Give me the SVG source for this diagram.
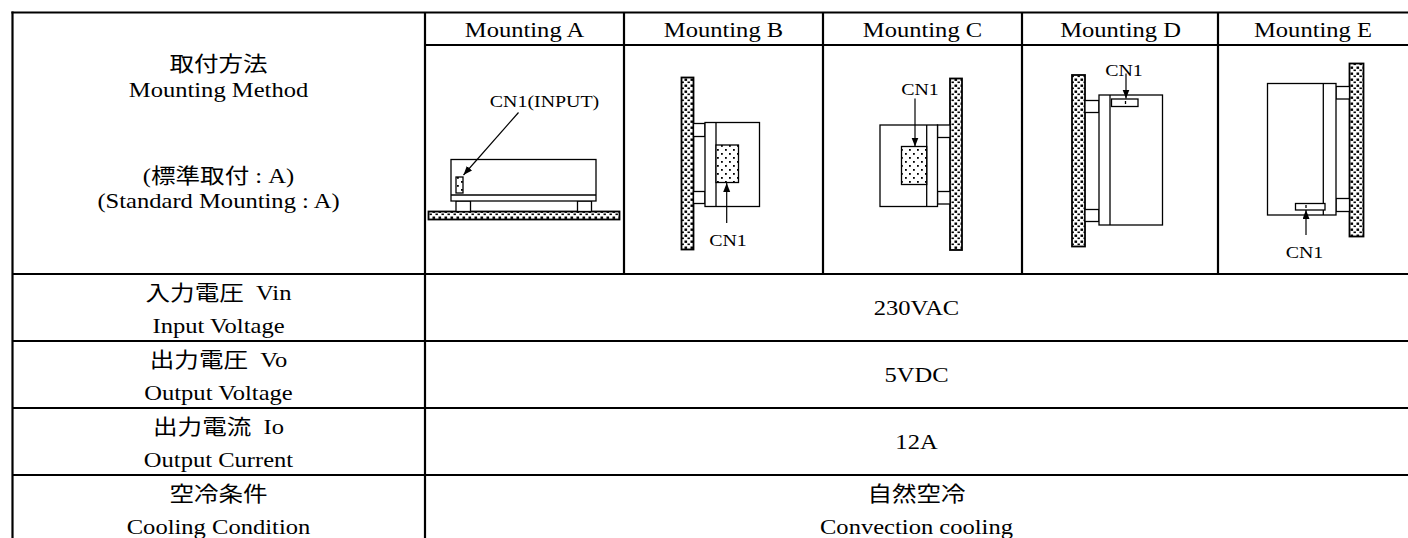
<svg xmlns="http://www.w3.org/2000/svg" width="1408" height="538" viewBox="0 0 1408 538">
<style>
.t { font-family: "Liberation Serif", "Noto Sans CJK JP", serif; font-size: 21px; text-anchor: middle; fill: #000; white-space: pre; }
.s { font-size: 17px; }
.grid line { stroke: #000; stroke-width: 2.2; }
.d { fill: #fff; stroke: #000; stroke-width: 1.3; }
.w { fill: url(#wall); stroke: #000; stroke-width: 1.8; }
.c { fill: url(#dots); stroke: #000; stroke-width: 1.3; }
.ln { stroke: #000; stroke-width: 1.3; fill: none; }
.ar { stroke: #000; stroke-width: 1.2; fill: none; marker-end: url(#ah); }
</style>
<defs>
<pattern id="wall" patternUnits="userSpaceOnUse" width="6" height="6">
<rect width="6" height="6" fill="#fff"/>
<rect x="0.5" y="0.5" width="2.6" height="2.4" fill="#000"/>
<rect x="3.5" y="3.5" width="2.4" height="1.6" fill="#000"/>
</pattern>
<pattern id="dots" patternUnits="userSpaceOnUse" width="8" height="8">
<rect width="8" height="8" fill="#fff"/>
<rect x="1" y="1" width="1.8" height="1.8" fill="#000"/>
<rect x="5" y="5" width="1.8" height="1.8" fill="#000"/>
</pattern>
<marker id="ah" markerUnits="userSpaceOnUse" markerWidth="10" markerHeight="8" refX="9" refY="3.5" orient="auto">
<path d="M0,0 L9,3.5 L0,7 z" fill="#000"/>
</marker>
</defs>
<rect width="1408" height="538" fill="#fff"/>

<g id="grid" class="grid">
<line x1="11.4" y1="12.5" x2="1408" y2="12.5"/>
<line x1="12.5" y1="11.4" x2="12.5" y2="538"/>
<line x1="425" y1="12.5" x2="425" y2="538"/>
<line x1="425" y1="45" x2="1408" y2="45"/>
<line x1="624" y1="12.5" x2="624" y2="274"/>
<line x1="823" y1="12.5" x2="823" y2="274"/>
<line x1="1022" y1="12.5" x2="1022" y2="274"/>
<line x1="1218" y1="12.5" x2="1218" y2="274"/>
<line x1="12.5" y1="274" x2="1408" y2="274"/>
<line x1="12.5" y1="341" x2="1408" y2="341"/>
<line x1="12.5" y1="408" x2="1408" y2="408"/>
<line x1="12.5" y1="475" x2="1408" y2="475"/>
</g>

<g id="row-mounting-label">
<text class="t" transform="matrix(1.17 0 0 1 218.5 71)">取付方法</text>
<text class="t" transform="matrix(1.17 0 0 1 218.5 97)">Mounting Method</text>
<text class="t" transform="matrix(1.17 0 0 1 218.5 183)">(標準取付 : A)</text>
<text class="t" transform="matrix(1.17 0 0 1 218.5 208)">(Standard Mounting : A)</text>
</g>

<g id="headers">
<text class="t" transform="matrix(1.17 0 0 1 524.5 36.5)">Mounting A</text>
<text class="t" transform="matrix(1.17 0 0 1 723.5 36.5)">Mounting B</text>
<text class="t" transform="matrix(1.17 0 0 1 922.5 36.5)">Mounting C</text>
<text class="t" transform="matrix(1.17 0 0 1 1120.5 36.5)">Mounting D</text>
<text class="t" transform="matrix(1.17 0 0 1 1313 36.5)">Mounting E</text>
</g>

<g id="mounting-a">
<rect class="w" x="428.5" y="211.5" width="191" height="8"/>
<rect class="d" x="456" y="201" width="14.5" height="10.5"/>
<rect class="d" x="577.5" y="201" width="14" height="10.5"/>
<rect class="d" x="451" y="159.5" width="145" height="41.5"/>
<line class="ln" x1="451" y1="195" x2="596" y2="195"/>
<rect class="c" x="456" y="177" width="7" height="16"/>
<text class="t s" transform="matrix(1.17 0 0 1 544.5 107)">CN1(INPUT)</text>
</g>

<g id="mounting-b">
<rect class="w" x="681.5" y="77.5" width="12" height="172"/>
<rect class="d" x="693.5" y="123.5" width="11.5" height="13"/>
<rect class="d" x="693.5" y="191.5" width="11.5" height="12"/>
<rect class="d" x="705" y="122.5" width="54.5" height="84"/>
<line class="ln" x1="716" y1="122.5" x2="716" y2="206.5"/>
<rect class="c" x="716" y="145" width="22.5" height="37.5"/>
<text class="t s" transform="matrix(1.17 0 0 1 728 246)">CN1</text>
</g>

<g id="mounting-c">
<rect class="w" x="950" y="78.5" width="12" height="171.5"/>
<rect class="d" x="937.5" y="125" width="12.5" height="12.5"/>
<rect class="d" x="937.5" y="191.5" width="12.5" height="12.5"/>
<rect class="d" x="880" y="125" width="57.5" height="81.5"/>
<line class="ln" x1="926.7" y1="125" x2="926.7" y2="206.5"/>
<rect class="c" x="901.5" y="146.5" width="25.2" height="38"/>
<text class="t s" transform="matrix(1.17 0 0 1 920 95)">CN1</text>
</g>

<g id="mounting-d">
<rect class="w" x="1072" y="75" width="13" height="171.5"/>
<rect class="d" x="1085" y="100.5" width="14" height="12"/>
<rect class="d" x="1085" y="209.5" width="14" height="12"/>
<rect class="d" x="1099" y="95" width="63.5" height="130"/>
<line class="ln" x1="1110" y1="95" x2="1110" y2="225"/>
<rect class="d" x="1111.5" y="99" width="26.5" height="7.5"/>
<line class="ln" x1="1125.5" y1="101" x2="1125.5" y2="104"/>
<text class="t s" transform="matrix(1.17 0 0 1 1124 76)">CN1</text>
</g>

<g id="mounting-e">
<rect class="w" x="1349.5" y="63.5" width="14" height="173"/>
<rect class="d" x="1336" y="86.5" width="13.5" height="12.5"/>
<rect class="d" x="1336" y="198.5" width="13.5" height="13"/>
<rect class="d" x="1267.5" y="83.5" width="68.5" height="131.5"/>
<line class="ln" x1="1323.3" y1="83.5" x2="1323.3" y2="215"/>
<rect class="d" x="1295.5" y="203.5" width="29.5" height="6.5"/>
<line class="ln" x1="1306" y1="205" x2="1306" y2="208"/>
<text class="t s" transform="matrix(1.17 0 0 1 1304.5 258)">CN1</text>
</g>

<g id="connectors">
<line class="ar" x1="518.5" y1="112.5" x2="463.5" y2="175"/>
<line class="ar" x1="726.7" y1="223" x2="726.7" y2="183"/>
<line class="ar" x1="915" y1="98.5" x2="915" y2="146.5"/>
<line class="ar" x1="1126" y1="73.5" x2="1126" y2="98.5"/>
<line class="ar" x1="1306" y1="235" x2="1306" y2="210"/>
</g>

<g id="row-vin">
<text class="t" transform="matrix(1.17 0 0 1 218.5 300)">入力電圧  Vin</text>
<text class="t" transform="matrix(1.17 0 0 1 218.5 333)">Input Voltage</text>
<text class="t" transform="matrix(1.17 0 0 1 916.5 315)">230VAC</text>
</g>
<g id="row-vo">
<text class="t" transform="matrix(1.17 0 0 1 218.5 367)">出力電圧  Vo</text>
<text class="t" transform="matrix(1.17 0 0 1 218.5 400)">Output Voltage</text>
<text class="t" transform="matrix(1.17 0 0 1 916.5 382)">5VDC</text>
</g>
<g id="row-io">
<text class="t" transform="matrix(1.17 0 0 1 218.5 434)">出力電流  Io</text>
<text class="t" transform="matrix(1.17 0 0 1 218.5 467)">Output Current</text>
<text class="t" transform="matrix(1.17 0 0 1 916.5 449)">12A</text>
</g>
<g id="row-cooling">
<text class="t" transform="matrix(1.17 0 0 1 218.5 501)">空冷条件</text>
<text class="t" transform="matrix(1.17 0 0 1 218.5 534)">Cooling Condition</text>
<text class="t" transform="matrix(1.17 0 0 1 916.5 501)">自然空冷</text>
<text class="t" transform="matrix(1.17 0 0 1 916.5 534)">Convection cooling</text>
</g>
</svg>
